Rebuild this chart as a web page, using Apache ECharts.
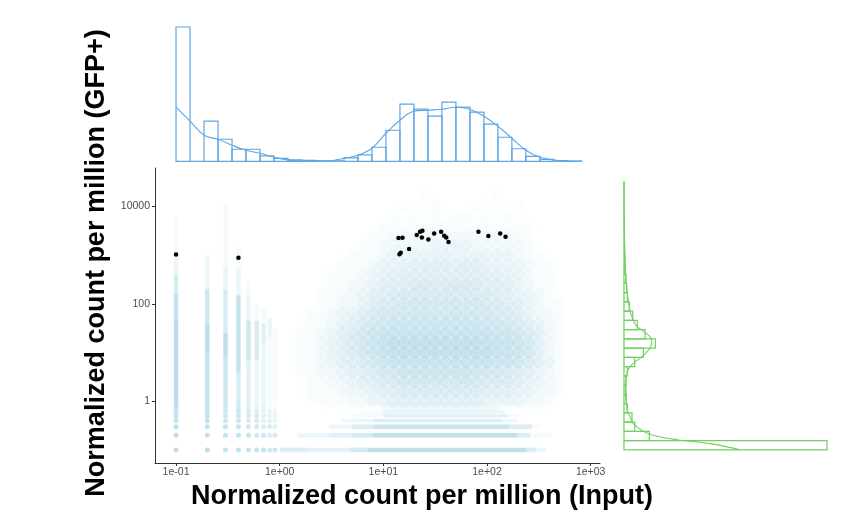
<!DOCTYPE html>
<html><head><meta charset="utf-8">
<script src="https://cdn.jsdelivr.net/npm/echarts@6/dist/echarts.min.js"></script>
<style>html,body{margin:0;padding:0;background:#fff}#c{width:845px;height:518px}</style>
</head><body><div id="c"></div>
<script>
// ================= DATA =================
const xTitle = 'Normalized count per million (Input)';
const yTitle = 'Normalized count per million (GFP+)';
const xTickValues = [0.1, 1, 10, 100, 1000];
const xTickLabels = ['1e-01', '1e+00', '1e+01', '1e+02', '1e+03'];
const yTickValues = [1, 100, 10000];
const yTickLabels = ['1', '100', '10000'];

// top marginal histogram (log10 Input), 29 bins
const topBinStart = -1.0;
const topBinWidth = 0.135;
const topCounts = [134, 0, 40, 22, 12, 12, 5.5, 3, 1.5, 1, 0.5, 0.5, 3.5, 6.5, 14, 31, 57, 52, 45, 59, 54, 49, 37, 24, 12.5, 5, 2, 0.7, 0.3];
// top density curve, at bin edges
const topDensity = [54, 40, 26, 22, 16, 11, 8, 4, 1.3, 0.3, 0.2, 0.5, 3, 6, 13, 28, 41, 50, 51, 52, 54, 52, 45, 35, 23, 11, 4, 1.3, 0.3, 0];

// right marginal histogram (log10 GFP+), 29 bins
const rightBinStart = -1.0;
const rightBinWidth = 0.19;
const rightCounts = [202.7, 25.3, 10.7, 8, 3.3, 2.3, 2, 2, 3.3, 10.7, 19.3, 31.3, 21, 13.3, 8.7, 5.3, 3.3, 2.7, 2, 1.3, 1, 0.7, 0.5, 0.3, 0.3, 0.2, 0.1, 0.1, 0.1];
// right density curve
const rightDensityLogY = [-0.993, -0.87, -0.79, -0.70, -0.60, -0.46, -0.32, -0.19, 0.02, 0.23, 0.43, 0.60, 0.71, 0.81, 0.91, 1.05, 1.19, 1.25, 1.36, 1.46, 1.56, 1.67, 1.80, 2.01, 2.21, 2.42, 2.69, 3.04, 3.38, 4.06, 4.51];
const rightDensity = [115, 86, 53, 29, 18, 9.3, 6, 3.3, 2, 1.3, 2, 3.3, 6, 11, 17.7, 24.3, 27.7, 27.7, 24.3, 17.7, 12, 9.3, 6.7, 4.7, 3.3, 2.3, 1.3, 0.7, 0.3, 0, 0];

// main point cloud: density (0-9) on a log10 grid
const cloudLogX = [0.0,0.1,0.2,0.3,0.4,0.5,0.6,0.7,0.8,0.9,1.0,1.1,1.2,1.3,1.4,1.5,1.6,1.7,1.8,1.9,2.0,2.1,2.2,2.3,2.4,2.5,2.6,2.7,2.8,2.9];
const cloudLogY = [4.4,4.2,4.0,3.8,3.6,3.4,3.2,3.0,2.8,2.6,2.4,2.2,2.0,1.8,1.6,1.4,1.2,1.0,0.8,0.6,0.4,0.2,0.0];
const cloudDensity = [
  '000000000000000000000000000000',
  '000000000000001000000100000000',
  '000000000000100100010001000000',
  '000000000001010101101010000000',
  '000000000011111111111111100000',
  '000000000112222222222221100000',
  '000000001122222333322222100000',
  '000000011123333333333332110000',
  '000000111233344444443333211000',
  '000001112334444444444433211000',
  '000001122344455555554443211000',
  '000011223445555555555443321000',
  '000011223455666666665544321100',
  '000112334566666666666554322100',
  '000112345667777777776665432100',
  '001123456788888888888776542100',
  '001123456789999999998887642100',
  '001123456789999999999887642100',
  '001123445678888888888776543100',
  '001122344566777777766655432100',
  '000112234455666666665554332100',
  '000111223344555555554443322100',
  '000111122334444444443333221000'
];

// discrete low-count columns (Input = 0.1 ... 0.9): [yFrom, yTo, intensity]
const lowColumnX = [0.1, 0.2, 0.3, 0.4, 0.5, 0.6, 0.7, 0.8, 0.9];
const lowColumnSegs = [
  [[0.75, 50, 7], [50, 160, 6], [160, 400, 4], [400, 900, 2], [900, 6000, 1]],
  [[0.75, 10, 6], [10, 40, 7], [40, 200, 5], [200, 1000, 2]],
  [[0.75, 8, 5], [8, 25, 7], [25, 200, 4], [200, 600, 2], [600, 12000, 1]],
  [[0.75, 4, 4], [4, 150, 6], [150, 500, 2], [500, 1500, 1]],
  [[0.75, 7, 3], [7, 45, 5], [45, 150, 2], [150, 300, 1]],
  [[0.75, 7, 2], [7, 45, 4], [45, 100, 1]],
  [[0.75, 15, 2], [15, 40, 3], [40, 80, 1]],
  [[0.8, 20, 1], [20, 50, 2]],
  [[0.9, 30, 1]]
];
// discrete low-count dots (GFP+ = 0.1 ... 0.7) x (Input = 0.1 ... 0.9)
const lowRowY = [0.1, 0.2, 0.3, 0.4, 0.5, 0.6, 0.7];
const lowDots = [
  '776666655',
  '766665544',
  '766655443',
  '665544332',
  '665544322',
  '554433221',
  '554432211'
];
// discrete low-count rows (GFP+ = 0.1 ... 0.9): [xFrom, xTo, intensity]
const floorRowY = [0.1, 0.2, 0.3, 0.4, 0.5, 0.6, 0.7, 0.8, 0.9];
const floorRowSegs = [
  [[1, 1.8, 4], [1.8, 4.8, 3], [4.8, 7, 5], [7, 240, 7], [240, 300, 4], [300, 370, 2]],
  [[1.5, 3, 2], [3, 5, 3], [5, 8, 5], [8, 195, 7], [195, 260, 4], [260, 420, 1]],
  [[3, 5, 2], [5, 8, 4], [8, 165, 6], [165, 270, 4], [270, 330, 1]],
  [[4, 8, 2], [8, 140, 4], [140, 200, 2]],
  [[5, 10, 1], [10, 160, 3], [160, 220, 1]],
  [[6, 10, 1], [10, 150, 2]],
  [[10, 130, 1]],
  [[10, 120, 1]],
  [[10, 100, 1]]
];

// highlighted points (black)
const hitX = [14.0, 15.3, 14.7, 14.3, 17.7, 21.0, 22.6, 23.8, 23.5, 27.2, 30.9, 36.1, 38.6, 40.4, 42.5, 82.7, 103, 134, 151, 0.1, 0.4];
const hitY = [2240, 2275, 1117, 1050, 1332, 2583, 3020, 3168, 2316, 2107, 2800, 3020, 2500, 2316, 1855, 3020, 2465, 2800, 2384, 1036, 890];

// ================= CHART =================
const CLOUD = '#add8e6';
const TOP_COLOR = '#5fa6e3';
const RIGHT_COLOR = '#73cf63';
const FONT = 'Liberation Sans, Arial, sans-serif';
const X_LOG_MIN = -1.203, X_LOG_MAX = 3.09;
const Y_LOG_MIN = -1.268, Y_LOG_MAX = 4.79;

const cloudData = [];
cloudDensity.forEach((row, j) => {
  for (let i = 0; i < row.length && i < cloudLogX.length; i++) {
    const k = +row[i];
    if (k > 0) cloudData.push({ value: [Math.pow(10, cloudLogX[i]), Math.pow(10, cloudLogY[j])], itemStyle: { opacity: 0.45 * Math.pow(k / 9, 1.2) } });
  }
});
const columnData = [];
lowColumnX.forEach((x, i) => lowColumnSegs[i].forEach(s => columnData.push([x, s[0], s[1], s[2]])));
const floorData = [];
floorRowY.forEach((y, i) => floorRowSegs[i].forEach(s => floorData.push([y, s[0], s[1], s[2]])));
const dotData = [];
lowDots.forEach((row, j) => {
  for (let i = 0; i < row.length; i++) {
    const k = +row[i];
    if (k > 0) dotData.push({ value: [lowColumnX[i], lowRowY[j]], itemStyle: { opacity: k * 0.12 } });
  }
});
const hitData = hitX.map((x, i) => [x, hitY[i]]);
const topHist = topCounts.map((c, i) => [topBinStart + i * topBinWidth, topBinStart + (i + 1) * topBinWidth, c]);
const topCurve = topDensity.map((d, i) => [topBinStart + i * topBinWidth, d]);
const rightHist = rightCounts.map((c, i) => [c, rightBinStart + i * rightBinWidth, rightBinStart + (i + 1) * rightBinWidth]);
const rightCurve = rightDensity.map((d, i) => [d, rightDensityLogY[i]]);

function lbl(values, labels) {
  return v => {
    const idx = values.findIndex(t => Math.abs(Math.log10(t) - Math.log10(v)) < 1e-6);
    return idx >= 0 ? labels[idx] : '';
  };
}

const chart = echarts.init(document.getElementById('c'), null, { renderer: 'canvas' });
chart.setOption({
  animation: false,
  backgroundColor: '#ffffff',
  grid: [
    { left: 155, right: 245, top: 168, bottom: 55 },
    { left: 155, right: 245, top: 27, height: 134.3 },
    { left: 624, width: 203, top: 168, bottom: 55 }
  ],
  xAxis: [
    { gridIndex: 0, type: 'log', logBase: 10, min: Math.pow(10, X_LOG_MIN), max: Math.pow(10, X_LOG_MAX),
      axisLine: { lineStyle: { color: '#333', width: 1 } },
      axisTick: { show: true, length: 3, customValues: xTickValues, lineStyle: { color: '#333' } },
      axisLabel: { customValues: xTickValues, formatter: lbl(xTickValues, xTickLabels), color: '#4d4d4d', fontSize: 10.5, fontFamily: FONT, margin: 4 },
      splitLine: { show: false }, minorTick: { show: false } },
    { gridIndex: 1, type: 'value', min: X_LOG_MIN, max: X_LOG_MAX, show: false },
    { gridIndex: 2, type: 'value', min: 0, max: 202.7, show: false }
  ],
  yAxis: [
    { gridIndex: 0, type: 'log', logBase: 10, min: Math.pow(10, Y_LOG_MIN), max: Math.pow(10, Y_LOG_MAX),
      axisLine: { show: true, lineStyle: { color: '#333', width: 1 } },
      axisTick: { show: true, length: 3, customValues: yTickValues, lineStyle: { color: '#333' } },
      axisLabel: { customValues: yTickValues, formatter: lbl(yTickValues, yTickLabels), color: '#4d4d4d', fontSize: 10.5, fontFamily: FONT, margin: 5 },
      splitLine: { show: false } },
    { gridIndex: 1, type: 'value', min: 0, max: 134, show: false },
    { gridIndex: 2, type: 'value', min: Y_LOG_MIN, max: Y_LOG_MAX, show: false }
  ],
  series: [
    { type: 'scatter', xAxisIndex: 0, yAxisIndex: 0, data: cloudData, symbolSize: 12, silent: true,
      itemStyle: { color: CLOUD, shadowBlur: 12, shadowColor: CLOUD }, z: 1 },
    { type: 'custom', xAxisIndex: 0, yAxisIndex: 0, data: columnData, encode: { x: 0, y: [1, 2] }, silent: true, z: 2,
      renderItem: (p, api) => {
        const a = api.coord([api.value(0), api.value(1)]);
        const b = api.coord([api.value(0), api.value(2)]);
        return { type: 'rect', shape: { x: a[0] - 2.2, y: b[1], width: 4.4, height: a[1] - b[1] },
          style: { fill: CLOUD, opacity: api.value(3) * 0.12 } };
      } },
    { type: 'custom', xAxisIndex: 0, yAxisIndex: 0, data: floorData, encode: { x: [1, 2], y: 0 }, silent: true, z: 2,
      renderItem: (p, api) => {
        const a = api.coord([api.value(1), api.value(0)]);
        const b = api.coord([api.value(2), api.value(0)]);
        const h = api.value(0) < 0.35 ? 4.6 : 3.2;
        return { type: 'rect', shape: { x: a[0], y: a[1] - h / 2, width: b[0] - a[0], height: h },
          style: { fill: CLOUD, opacity: api.value(3) * 0.11 } };
      } },
    { type: 'scatter', xAxisIndex: 0, yAxisIndex: 0, data: dotData, symbolSize: 5, silent: true,
      itemStyle: { color: CLOUD }, z: 3 },
    { type: 'scatter', xAxisIndex: 0, yAxisIndex: 0, data: hitData, symbolSize: 4.5, silent: true,
      itemStyle: { color: '#000', opacity: 1 }, z: 5 },
    { type: 'custom', xAxisIndex: 1, yAxisIndex: 1, data: topHist, encode: { x: [0, 1], y: 2 }, silent: true,
      renderItem: (p, api) => {
        const a = api.coord([api.value(0), 0]);
        const b = api.coord([api.value(1), api.value(2)]);
        return { type: 'rect', shape: { x: a[0], y: b[1], width: b[0] - a[0], height: Math.max(0.01, a[1] - b[1]) },
          style: { fill: 'none', stroke: TOP_COLOR, lineWidth: 1.2 } };
      } },
    { type: 'line', xAxisIndex: 1, yAxisIndex: 1, data: topCurve, smooth: 0.4, showSymbol: false, silent: true,
      lineStyle: { color: TOP_COLOR, width: 1.1 } },
    { type: 'custom', xAxisIndex: 2, yAxisIndex: 2, data: rightHist, encode: { x: 0, y: [1, 2] }, silent: true,
      renderItem: (p, api) => {
        const a = api.coord([0, api.value(1)]);
        const b = api.coord([api.value(0), api.value(2)]);
        return { type: 'rect', shape: { x: a[0], y: b[1], width: Math.max(0.01, b[0] - a[0]), height: a[1] - b[1] },
          style: { fill: 'none', stroke: RIGHT_COLOR, lineWidth: 1.2 } };
      } },
    { type: 'line', xAxisIndex: 2, yAxisIndex: 2, data: rightCurve, smooth: 0.4, showSymbol: false, silent: true,
      lineStyle: { color: RIGHT_COLOR, width: 1.1 } }
  ],
  graphic: [
    { type: 'text', x: 97, y: 263, rotation: Math.PI / 2,
      style: { text: yTitle, fontSize: 27, fontWeight: 'bold', fontFamily: FONT, fill: '#000',
        align: 'center', verticalAlign: 'middle', textAlign: 'center', textVerticalAlign: 'middle' } },
    { type: 'text', x: 422, y: 497,
      style: { text: xTitle, fontSize: 27, fontWeight: 'bold', fontFamily: FONT, fill: '#000',
        align: 'center', verticalAlign: 'middle', textAlign: 'center', textVerticalAlign: 'middle' } }
  ]
});
</script></body></html>
